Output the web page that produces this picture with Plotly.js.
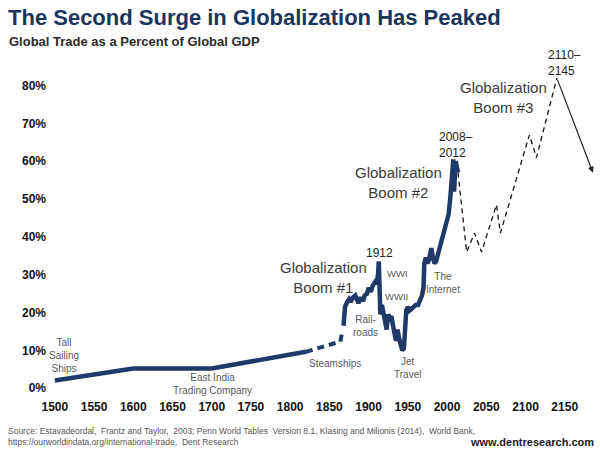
<!DOCTYPE html>
<html>
<head>
<meta charset="utf-8">
<script src="https://cdn.plot.ly/plotly-3.0.1.min.js"></script>
<style>html,body{margin:0;padding:0;background:#fff;}#chart{width:600px;height:450px;}</style>
</head>
<body>
<div id="chart"></div>
<script>
// ---- Data ----
const earlyYears = [1500, 1600, 1700, 1820];
const earlyValues = [2.0, 5.2, 5.2, 9.6];

const steamYears = [1820, 1845, 1864, 1866];
const steamValues = [9.6, 11.0, 12.3, 14.5];

const boomYears = [1868,1870,1872,1875,1877,1880,1883,1885,1887,1890,1893,1895,1898,1900,1903,1905,1908,1910,1912,1913,1914,1915,1917,1919,1921,1923,1925,1927,1929,1931,1933,1935,1937,1939,1941,1943,1945,1946,1948,1950,1952,1955,1958,1960,1963,1965,1968,1970,1971,1973,1975,1977,1980,1982,1984,1986,1988,1990,1992,1994,1996,1998,2000,2002,2004,2005,2006,2007,2008,2009,2010,2011,2012,2013,2014];
const boomValues = [16.5,21.5,22.5,23.5,22.8,24.0,24.5,23.0,22.5,24.0,23.0,24.5,25.0,26.5,25.5,27.0,28.0,27.5,30.0,33.5,24.0,19.5,22.0,20.0,18.5,15.5,19.5,18.5,19.0,16.0,14.5,12.5,15.5,13.0,11.5,10.0,10.5,16.0,20.5,21.5,20.5,21.0,21.5,22.0,22.0,23.0,24.5,26.5,33.0,34.5,33.0,34.0,37.0,34.5,33.0,33.5,35.0,36.5,38.0,39.5,41.5,42.0,44.5,46.0,50.0,53.5,57.5,59.5,60.5,52.0,57.5,60.0,59.0,58.0,57.0];

const projYears = [2014, 2025, 2035, 2044, 2063, 2068, 2105, 2114, 2140];
const projValues = [57.0, 36.0, 41.0, 36.0, 48.5, 41.0, 67.0, 61.0, 82.0];

const arrowTarget = {year: 2186, value: 57.0};

const xTickVals = [1500,1550,1600,1650,1700,1750,1800,1850,1900,1950,2000,2050,2100,2150];
const yTickVals = [0,10,20,30,40,50,60,70,80];
const yTickText = ['0%','10%','20%','30%','40%','50%','60%','70%','80%'];

// ---- Layout geometry ----
const W = 600, H = 450;
const M = {l: 47, r: 0, t: 63, b: 60};
const plotW = W - M.l - M.r, plotH = H - M.t - M.b;
const px = x => (x - M.l) / plotW;          // pixel -> paper x
const py = y => (H - M.b - y) / plotH;      // pixel -> paper y

const NAVY = '#1f3a68';
const FONT = 'Arial, "Liberation Sans", sans-serif';
const grey = '#595959';

const traces = [
  {x: earlyYears, y: earlyValues, mode: 'lines', line: {color: NAVY, width: 4.5}, hoverinfo: 'skip'},
  {x: steamYears, y: steamValues, mode: 'lines', line: {color: NAVY, width: 4, dash: '7px,5px'}, hoverinfo: 'skip'},
  {x: boomYears, y: boomValues, mode: 'lines', line: {color: NAVY, width: 4.5}, hoverinfo: 'skip'},
  {x: projYears, y: projValues, mode: 'lines', line: {color: '#111', width: 1.3, dash: '5px,4px'}, hoverinfo: 'skip'}
];

function lbl(x, y, text, size, color, opts) {
  return Object.assign({x: x, y: y, xref: 'x', yref: 'y', text: text, showarrow: false,
    font: {family: FONT, size: size, color: color}, align: 'center', xanchor: 'center', yanchor: 'middle'}, opts || {});
}

const annotations = [
  lbl(1511.5, 8.5, 'Tall<br>Sailing<br>Ships', 10, grey),
  lbl(1701, 1.0, 'East India<br>Trading Company', 10, grey),
  lbl(1857, 6.6, 'Steamships', 10, grey),
  lbl(1842, 29.3, 'Globalization<br>Boom #1', 15, '#3a3a3a'),
  lbl(1914.2, 35.8, '1912', 12, '#222'),
  lbl(1936.3, 30.4, 'WWI', 9.5, grey),
  lbl(1935.5, 24.2, 'WWII', 9.5, grey),
  lbl(1895.5, 16.3, 'Rail-<br>roads', 10, grey),
  lbl(1950.2, 5.2, 'Jet<br>Travel', 10, grey),
  lbl(1995, 27.9, 'The<br>Internet', 10, grey),
  lbl(1938, 54.5, 'Globalization<br>Boom #2', 15, '#3a3a3a'),
  lbl(1987.2, 64.2, '2008–<br>2012', 12, '#222', {xanchor: 'left', align: 'left'}),
  lbl(2072.2, 76.8, 'Globalization<br>Boom #3', 15, '#3a3a3a'),
  lbl(2125.7, 86.0, '2110–<br>2145', 12, '#222', {xanchor: 'left', align: 'left'}),
  // arrow from projection end
  {x: arrowTarget.year, y: arrowTarget.value, xref: 'x', yref: 'y',
   ax: projYears[projYears.length - 1], ay: projValues[projValues.length - 1], axref: 'x', ayref: 'y',
   showarrow: true, arrowhead: 2, arrowsize: 1, arrowwidth: 1.2, arrowcolor: '#222', text: ''},
  // subtitle
  {x: px(7), y: py(42), xref: 'paper', yref: 'paper', xanchor: 'left', yanchor: 'middle', showarrow: false,
   text: 'Global Trade as a Percent of Global GDP', font: {family: FONT, size: 13, color: '#2b2b2b', weight: 'bold'}},
  // source
  {x: px(6), y: py(436), xref: 'paper', yref: 'paper', xanchor: 'left', yanchor: 'middle', showarrow: false, align: 'left',
   text: 'Source: Estavadeordal,  Frantz and Taylor,  2003; Penn World Tables  Version 8.1, Klasing and Milionis (2014),  World Bank,<br>https://ourworldindata.org/international-trade,  Dent Research',
   font: {family: FONT, size: 8.5, color: '#555'}},
  {x: px(596), y: py(442), xref: 'paper', yref: 'paper', xanchor: 'right', yanchor: 'middle', showarrow: false,
   text: 'www.dentresearch.com', font: {family: FONT, size: 11, color: '#1a1a1a', weight: 'bold'}}
];

const layout = {
  width: W, height: H,
  margin: M,
  paper_bgcolor: '#fff', plot_bgcolor: '#fff',
  showlegend: false,
  title: {text: 'The Second Surge in Globalization Has Peaked', xref: 'container', yref: 'container',
    x: 8 / W, xanchor: 'left', y: 1 - 17.5 / H, yanchor: 'middle',
    font: {family: FONT, size: 22, color: '#1c355e', weight: 'bold'}},
  xaxis: {range: [1490, 2195], tickvals: xTickVals, showgrid: false, zeroline: false, showline: false,
    ticks: 'outside', ticklen: 6, tickcolor: 'rgba(0,0,0,0)',
    tickfont: {family: FONT, size: 12, color: '#111', weight: 'bold'}},
  yaxis: {range: [-0.5, 86], tickvals: yTickVals, ticktext: yTickText, showgrid: false, zeroline: false, showline: false,
    ticks: '', tickfont: {family: FONT, size: 12, color: '#111', weight: 'bold'}},
  annotations: annotations
};

Plotly.newPlot('chart', traces, layout, {displayModeBar: false, staticPlot: true});
</script>
</body>
</html>
